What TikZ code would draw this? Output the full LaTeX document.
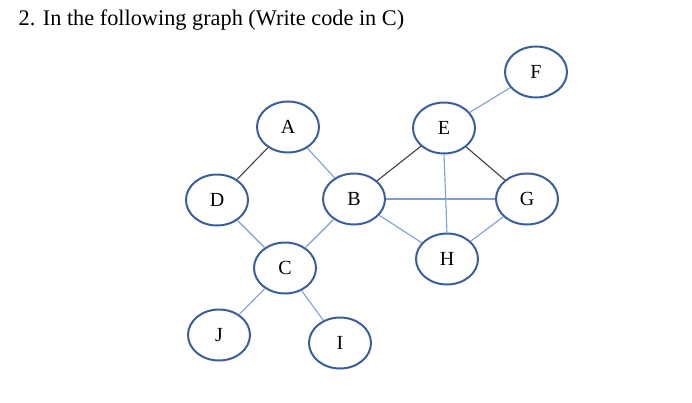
\documentclass[tikz,border=0pt]{standalone}
\usepackage{fontspec}
\setmainfont{Liberation Serif}
\usetikzlibrary{shapes.geometric}
\definecolor{nodeblue}{HTML}{3A5E9C}
\definecolor{edgeblue}{HTML}{7C9ED8}
\definecolor{edgedark}{HTML}{404040}
\begin{document}
\begin{tikzpicture}[x=1pt,y=-1pt,
  vert/.style={ellipse, draw=nodeblue, line width=2pt, minimum width=62pt, minimum height=51pt, inner sep=0pt, font=\fontsize{20}{24}\selectfont},
  be/.style={draw=edgeblue, line width=1.1pt},
  de/.style={draw=edgedark, line width=1.1pt}]
\useasboundingbox (0,0) rectangle (692,402);
\node[anchor=base west, inner sep=0pt, font=\fontsize{22.3}{26}\selectfont] (title) at (18.5,25) {2. In the following graph (Write code in C)};
\node[vert] (A) at (288,127) {A};
\node[vert] (D) at (217,200) {D};
\node[vert] (B) at (354,199) {B};
\node[vert] (C) at (285,268) {C};
\node[vert] (J) at (219,335) {J};
\node[vert] (I) at (340,343) {I};
\node[vert] (E) at (444,128) {E};
\node[vert] (F) at (536,72) {F};
\node[vert] (G) at (527,199) {G};
\node[vert] (H) at (447,259) {H};
\draw[de] (A) -- (D);
\draw[be] (A) -- (B);
\draw[be] (D) -- (C);
\draw[be] (B) -- (C);
\draw[be] (C) -- (J);
\draw[be] (C) -- (I);
\draw[de] (B) -- (E);
\draw[be] (B.east) -- (G.west);
\draw[be] (B) -- (H);
\draw[be] (E.south) -- (H.north);
\draw[be] (E) -- (F);
\draw[de] (E) -- (G);
\draw[be] (G) -- (H);
\end{tikzpicture}
\end{document}
